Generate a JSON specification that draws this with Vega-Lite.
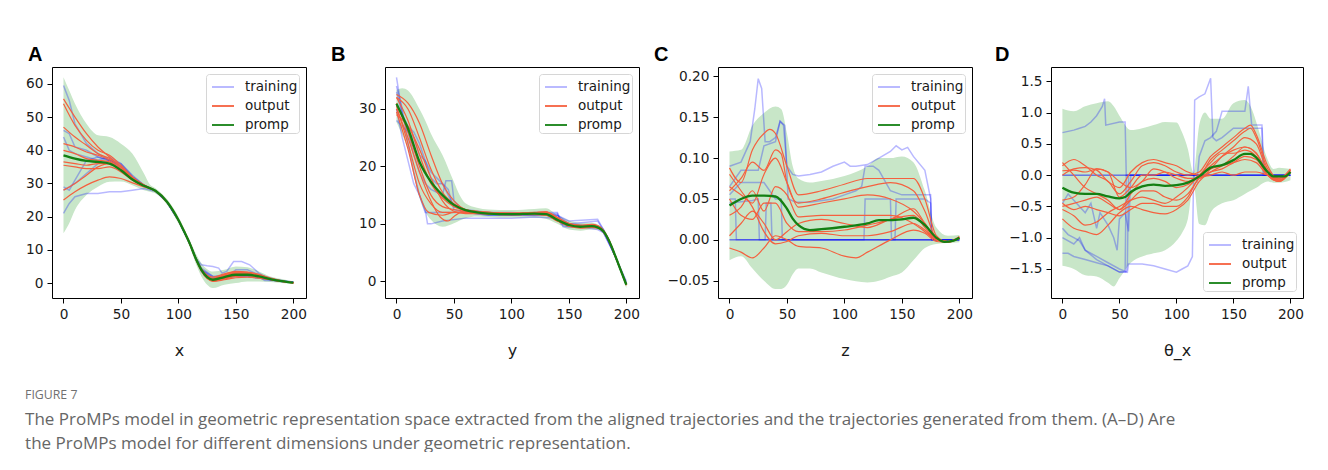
{
"$schema":"https://vega.github.io/schema/vega-lite/v6.json",
"background":"white",
"padding":{"left":25,"top":44,"right":0,"bottom":0},
"bounds":"flush",
"spacing":79,
"title":{"text":"FIGURE 7","subtitle":["The ProMPs model in geometric representation space extracted from the aligned trajectories and the trajectories generated from them. (A–D) Are","the ProMPs model for different dimensions under geometric representation."],"orient":"bottom","anchor":"start","frame":"bounds","font":"Open Sans","fontSize":12.3,"fontWeight":"normal","color":"#707070","baseline":"top","subtitleFont":"Open Sans","subtitleFontSize":17,"subtitleColor":"#666666","subtitleLineHeight":24,"subtitlePadding":10,"offset":30},
"config":{
"font":"DejaVu Sans",
"view":{"stroke":"#000000","strokeWidth":1},
"axis":{"grid":false,"domain":false,"ticks":true,"tickColor":"#000000","tickSize":5,"tickWidth":1,"labelFont":"DejaVu Sans","labelFontSize":13.7,"labelColor":"#1a1a1a","labelPadding":4,"labelFlush":false,"labelOverlap":false,"titleFont":"DejaVu Sans","titleFontSize":16,"titleFontWeight":"normal","titleColor":"#1a1a1a","titlePadding":22},
"title":{"font":"Liberation Sans","fontSize":20,"fontWeight":"bold","color":"#000000","anchor":"start","baseline":"alphabetic","frame":"group","offset":2}
},
"resolve":{"scale":{"color":"independent","x":"independent","y":"independent"},"legend":{"color":"independent"}},
"datasets":{
"A_band":[{"x":0,"y":15,"y2":62},{"x":5,"y":18,"y2":58},{"x":10,"y":22,"y2":54},{"x":20,"y":26.5,"y2":48},{"x":30,"y":29,"y2":44.5},{"x":40,"y":30.5,"y2":44},{"x":50,"y":30.6,"y2":42},{"x":60,"y":29.5,"y2":39},{"x":70,"y":28,"y2":33},{"x":75,"y":27.5,"y2":29.8},{"x":80,"y":27,"y2":28.6},{"x":90,"y":23.7,"y2":25.3},{"x":100,"y":18,"y2":20},{"x":110,"y":10.8,"y2":12.8},{"x":115,"y":6,"y2":9},{"x":120,"y":2,"y2":6},{"x":125,"y":-0.5,"y2":4.2},{"x":130,"y":-1.5,"y2":3.5},{"x":140,"y":-0.5,"y2":4},{"x":150,"y":0,"y2":5},{"x":160,"y":0.5,"y2":4.8},{"x":170,"y":0.5,"y2":3.5},{"x":180,"y":0.3,"y2":2},{"x":190,"y":0,"y2":1.2},{"x":200,"y":-0.3,"y2":0.5}],
"A_mean":[{"x":0,"y":38.5},{"x":10,"y":37.5},{"x":20,"y":36.8},{"x":30,"y":36.5},{"x":40,"y":36},{"x":50,"y":34},{"x":60,"y":31.2},{"x":70,"y":29.3},{"x":80,"y":27.8},{"x":90,"y":24.5},{"x":100,"y":19},{"x":105,"y":15.5},{"x":110,"y":11.8},{"x":115,"y":7.5},{"x":120,"y":4},{"x":125,"y":1.8},{"x":130,"y":1},{"x":140,"y":1.8},{"x":150,"y":2.5},{"x":160,"y":2.5},{"x":170,"y":2},{"x":180,"y":1.2},{"x":190,"y":0.6},{"x":200,"y":0.1}],
"A_out":[
{"s":"r1","x":0,"y":55.5},{"s":"r1","x":10,"y":50},{"s":"r1","x":20,"y":45},{"s":"r1","x":30,"y":41},{"s":"r1","x":40,"y":38},{"s":"r1","x":50,"y":35},{"s":"r1","x":60,"y":31.8},{"s":"r1","x":70,"y":29.5},{"s":"r1","x":80,"y":27.9},{"s":"r1","x":90,"y":24.6},{"s":"r1","x":100,"y":19.1},{"s":"r1","x":110,"y":11.9},{"s":"r1","x":115,"y":7.7},{"s":"r1","x":120,"y":4.3},{"s":"r1","x":130,"y":1.8},{"s":"r1","x":140,"y":2.8},{"s":"r1","x":150,"y":3.5},{"s":"r1","x":160,"y":3.3},{"s":"r1","x":170,"y":2.6},{"s":"r1","x":180,"y":1.5},{"s":"r1","x":190,"y":0.7},{"s":"r1","x":200,"y":0.1},
{"s":"r2","x":0,"y":54},{"s":"r2","x":10,"y":47.5},{"s":"r2","x":20,"y":43},{"s":"r2","x":30,"y":40},{"s":"r2","x":40,"y":38.5},{"s":"r2","x":50,"y":35.5},{"s":"r2","x":60,"y":32},{"s":"r2","x":70,"y":29.6},{"s":"r2","x":80,"y":27.8},{"s":"r2","x":90,"y":24.5},{"s":"r2","x":100,"y":19},{"s":"r2","x":110,"y":11.8},{"s":"r2","x":115,"y":7.4},{"s":"r2","x":120,"y":3.7},{"s":"r2","x":130,"y":0.8},{"s":"r2","x":140,"y":1.5},{"s":"r2","x":150,"y":2.2},{"s":"r2","x":160,"y":2.5},{"s":"r2","x":170,"y":2.2},{"s":"r2","x":180,"y":1.3},{"s":"r2","x":190,"y":0.6},{"s":"r2","x":200,"y":0.1},
{"s":"r3","x":0,"y":47},{"s":"r3","x":10,"y":44},{"s":"r3","x":20,"y":41.5},{"s":"r3","x":30,"y":39},{"s":"r3","x":40,"y":37.5},{"s":"r3","x":50,"y":35},{"s":"r3","x":60,"y":31.6},{"s":"r3","x":70,"y":29.4},{"s":"r3","x":80,"y":27.8},{"s":"r3","x":90,"y":24.5},{"s":"r3","x":100,"y":19},{"s":"r3","x":110,"y":11.8},{"s":"r3","x":115,"y":7.5},{"s":"r3","x":120,"y":4.1},{"s":"r3","x":130,"y":1.2},{"s":"r3","x":140,"y":2.2},{"s":"r3","x":150,"y":3},{"s":"r3","x":160,"y":3},{"s":"r3","x":170,"y":2.3},{"s":"r3","x":180,"y":1.2},{"s":"r3","x":190,"y":0.5},{"s":"r3","x":200,"y":0.1},
{"s":"r4","x":0,"y":42},{"s":"r4","x":10,"y":41},{"s":"r4","x":20,"y":39.5},{"s":"r4","x":30,"y":38.5},{"s":"r4","x":40,"y":37},{"s":"r4","x":50,"y":34.5},{"s":"r4","x":60,"y":31.3},{"s":"r4","x":70,"y":29.3},{"s":"r4","x":80,"y":27.7},{"s":"r4","x":90,"y":24.4},{"s":"r4","x":100,"y":18.9},{"s":"r4","x":110,"y":11.7},{"s":"r4","x":115,"y":7.3},{"s":"r4","x":120,"y":3.6},{"s":"r4","x":130,"y":0.6},{"s":"r4","x":140,"y":1.2},{"s":"r4","x":150,"y":2},{"s":"r4","x":160,"y":2.2},{"s":"r4","x":170,"y":1.8},{"s":"r4","x":180,"y":1.1},{"s":"r4","x":190,"y":0.5},{"s":"r4","x":200,"y":0.1},
{"s":"r5","x":0,"y":40},{"s":"r5","x":10,"y":39},{"s":"r5","x":20,"y":37.5},{"s":"r5","x":30,"y":37},{"s":"r5","x":40,"y":36.5},{"s":"r5","x":50,"y":34},{"s":"r5","x":60,"y":31.2},{"s":"r5","x":70,"y":29.3},{"s":"r5","x":80,"y":27.8},{"s":"r5","x":90,"y":24.5},{"s":"r5","x":100,"y":19},{"s":"r5","x":110,"y":11.8},{"s":"r5","x":115,"y":7.5},{"s":"r5","x":120,"y":4},{"s":"r5","x":130,"y":1},{"s":"r5","x":140,"y":2},{"s":"r5","x":150,"y":2.8},{"s":"r5","x":160,"y":2.7},{"s":"r5","x":170,"y":2},{"s":"r5","x":180,"y":1.2},{"s":"r5","x":190,"y":0.6},{"s":"r5","x":200,"y":0.1},
{"s":"r6","x":0,"y":36.5},{"s":"r6","x":10,"y":36},{"s":"r6","x":20,"y":35.5},{"s":"r6","x":30,"y":36},{"s":"r6","x":40,"y":36},{"s":"r6","x":50,"y":34},{"s":"r6","x":60,"y":31.2},{"s":"r6","x":70,"y":29.3},{"s":"r6","x":80,"y":27.8},{"s":"r6","x":90,"y":24.5},{"s":"r6","x":100,"y":19},{"s":"r6","x":110,"y":11.8},{"s":"r6","x":115,"y":7.5},{"s":"r6","x":120,"y":3.9},{"s":"r6","x":130,"y":0.9},{"s":"r6","x":140,"y":1.6},{"s":"r6","x":150,"y":2.4},{"s":"r6","x":160,"y":2.4},{"s":"r6","x":170,"y":1.9},{"s":"r6","x":180,"y":1.1},{"s":"r6","x":190,"y":0.5},{"s":"r6","x":200,"y":0.1},
{"s":"r7","x":0,"y":35.5},{"s":"r7","x":10,"y":35},{"s":"r7","x":20,"y":34.5},{"s":"r7","x":30,"y":34.5},{"s":"r7","x":40,"y":35},{"s":"r7","x":50,"y":33.5},{"s":"r7","x":60,"y":31},{"s":"r7","x":70,"y":29.2},{"s":"r7","x":80,"y":27.7},{"s":"r7","x":90,"y":24.4},{"s":"r7","x":100,"y":18.9},{"s":"r7","x":110,"y":11.7},{"s":"r7","x":115,"y":7.4},{"s":"r7","x":120,"y":3.9},{"s":"r7","x":130,"y":1.3},{"s":"r7","x":140,"y":2.4},{"s":"r7","x":150,"y":3.2},{"s":"r7","x":160,"y":3.1},{"s":"r7","x":170,"y":2.5},{"s":"r7","x":180,"y":1.4},{"s":"r7","x":190,"y":0.6},{"s":"r7","x":200,"y":0.1},
{"s":"r8","x":0,"y":28},{"s":"r8","x":10,"y":30},{"s":"r8","x":20,"y":32.5},{"s":"r8","x":30,"y":35},{"s":"r8","x":40,"y":36},{"s":"r8","x":50,"y":34},{"s":"r8","x":60,"y":31.2},{"s":"r8","x":70,"y":29.3},{"s":"r8","x":80,"y":27.8},{"s":"r8","x":90,"y":24.5},{"s":"r8","x":100,"y":19},{"s":"r8","x":110,"y":11.8},{"s":"r8","x":115,"y":7.5},{"s":"r8","x":120,"y":4},{"s":"r8","x":130,"y":0.5},{"s":"r8","x":140,"y":1},{"s":"r8","x":150,"y":1.6},{"s":"r8","x":160,"y":1.8},{"s":"r8","x":170,"y":1.5},{"s":"r8","x":180,"y":1},{"s":"r8","x":190,"y":0.5},{"s":"r8","x":200,"y":0.1},
{"s":"r9","x":0,"y":25},{"s":"r9","x":10,"y":27.5},{"s":"r9","x":20,"y":29.5},{"s":"r9","x":30,"y":31},{"s":"r9","x":40,"y":32},{"s":"r9","x":50,"y":31.5},{"s":"r9","x":60,"y":30.2},{"s":"r9","x":70,"y":29},{"s":"r9","x":80,"y":27.7},{"s":"r9","x":90,"y":24.5},{"s":"r9","x":100,"y":19},{"s":"r9","x":110,"y":11.8},{"s":"r9","x":115,"y":7.5},{"s":"r9","x":120,"y":4.1},{"s":"r9","x":130,"y":1.4},{"s":"r9","x":140,"y":2.6},{"s":"r9","x":150,"y":3.4},{"s":"r9","x":160,"y":3.2},{"s":"r9","x":170,"y":2.4},{"s":"r9","x":180,"y":1.3},{"s":"r9","x":190,"y":0.6},{"s":"r9","x":200,"y":0.1}],
"A_train":[
{"s":"b1","x":0,"y":59.5},{"s":"b1","x":5,"y":55},{"s":"b1","x":10,"y":48},{"s":"b1","x":20,"y":42},{"s":"b1","x":30,"y":39},{"s":"b1","x":40,"y":37},{"s":"b1","x":50,"y":35},{"s":"b1","x":60,"y":31.5},{"s":"b1","x":70,"y":29.4},{"s":"b1","x":80,"y":27.8},{"s":"b1","x":90,"y":24.5},{"s":"b1","x":100,"y":19},{"s":"b1","x":110,"y":11.8},{"s":"b1","x":115,"y":7.5},{"s":"b1","x":120,"y":4.5},{"s":"b1","x":130,"y":2},{"s":"b1","x":140,"y":2.5},{"s":"b1","x":150,"y":3},{"s":"b1","x":160,"y":3},{"s":"b1","x":170,"y":2},{"s":"b1","x":180,"y":1.2},{"s":"b1","x":190,"y":0.5},{"s":"b1","x":200,"y":0.2},
{"s":"b2","x":0,"y":46},{"s":"b2","x":5,"y":45},{"s":"b2","x":10,"y":41},{"s":"b2","x":20,"y":40},{"s":"b2","x":30,"y":38},{"s":"b2","x":40,"y":37},{"s":"b2","x":50,"y":35.5},{"s":"b2","x":60,"y":32},{"s":"b2","x":70,"y":29.5},{"s":"b2","x":80,"y":27.8},{"s":"b2","x":90,"y":24.5},{"s":"b2","x":100,"y":19},{"s":"b2","x":110,"y":11.8},{"s":"b2","x":115,"y":7.5},{"s":"b2","x":120,"y":5.5},{"s":"b2","x":125,"y":5.2},{"s":"b2","x":130,"y":5},{"s":"b2","x":135,"y":4.5},{"s":"b2","x":138,"y":3},{"s":"b2","x":142,"y":3.5},{"s":"b2","x":148,"y":6.5},{"s":"b2","x":155,"y":6.5},{"s":"b2","x":162,"y":5.5},{"s":"b2","x":170,"y":3},{"s":"b2","x":180,"y":1},{"s":"b2","x":190,"y":0.8},{"s":"b2","x":200,"y":0.3},
{"s":"b3","x":0,"y":44},{"s":"b3","x":5,"y":40},{"s":"b3","x":10,"y":39},{"s":"b3","x":20,"y":38},{"s":"b3","x":30,"y":37},{"s":"b3","x":40,"y":38},{"s":"b3","x":50,"y":36},{"s":"b3","x":60,"y":32.5},{"s":"b3","x":70,"y":29.5},{"s":"b3","x":80,"y":27.8},{"s":"b3","x":90,"y":24.5},{"s":"b3","x":100,"y":19},{"s":"b3","x":110,"y":11.8},{"s":"b3","x":115,"y":7.5},{"s":"b3","x":120,"y":3.5},{"s":"b3","x":130,"y":1},{"s":"b3","x":140,"y":1.5},{"s":"b3","x":150,"y":2},{"s":"b3","x":160,"y":2},{"s":"b3","x":170,"y":1.5},{"s":"b3","x":180,"y":1},{"s":"b3","x":190,"y":0.5},{"s":"b3","x":200,"y":0.2},
{"s":"b4","x":0,"y":29},{"s":"b4","x":5,"y":28},{"s":"b4","x":10,"y":31},{"s":"b4","x":20,"y":37},{"s":"b4","x":30,"y":38},{"s":"b4","x":40,"y":37},{"s":"b4","x":50,"y":36},{"s":"b4","x":60,"y":32},{"s":"b4","x":70,"y":29.4},{"s":"b4","x":80,"y":27.8},{"s":"b4","x":90,"y":24.5},{"s":"b4","x":100,"y":19},{"s":"b4","x":110,"y":11.8},{"s":"b4","x":115,"y":7.5},{"s":"b4","x":120,"y":4},{"s":"b4","x":130,"y":1},{"s":"b4","x":140,"y":1.5},{"s":"b4","x":150,"y":2.5},{"s":"b4","x":160,"y":2.5},{"s":"b4","x":170,"y":2},{"s":"b4","x":175,"y":0.8},{"s":"b4","x":180,"y":0.8},{"s":"b4","x":190,"y":0.6},{"s":"b4","x":200,"y":0.2},
{"s":"b5","x":0,"y":28},{"s":"b5","x":5,"y":29},{"s":"b5","x":10,"y":30},{"s":"b5","x":20,"y":33},{"s":"b5","x":30,"y":36},{"s":"b5","x":40,"y":37},{"s":"b5","x":50,"y":35},{"s":"b5","x":60,"y":31.5},{"s":"b5","x":70,"y":29.4},{"s":"b5","x":80,"y":27.8},{"s":"b5","x":90,"y":24.5},{"s":"b5","x":100,"y":19},{"s":"b5","x":110,"y":11.8},{"s":"b5","x":115,"y":7.5},{"s":"b5","x":120,"y":4},{"s":"b5","x":130,"y":2},{"s":"b5","x":140,"y":1.5},{"s":"b5","x":150,"y":4},{"s":"b5","x":160,"y":4},{"s":"b5","x":170,"y":2.5},{"s":"b5","x":180,"y":1.5},{"s":"b5","x":190,"y":0.6},{"s":"b5","x":200,"y":0.2},
{"s":"b6","x":0,"y":21},{"s":"b6","x":5,"y":24},{"s":"b6","x":10,"y":26},{"s":"b6","x":20,"y":27},{"s":"b6","x":30,"y":27},{"s":"b6","x":40,"y":27.5},{"s":"b6","x":50,"y":27.5},{"s":"b6","x":60,"y":28},{"s":"b6","x":70,"y":28.5},{"s":"b6","x":80,"y":27.6},{"s":"b6","x":90,"y":24.5},{"s":"b6","x":100,"y":19},{"s":"b6","x":110,"y":11.8},{"s":"b6","x":115,"y":7.5},{"s":"b6","x":120,"y":4},{"s":"b6","x":130,"y":1.5},{"s":"b6","x":140,"y":2},{"s":"b6","x":150,"y":2},{"s":"b6","x":160,"y":2},{"s":"b6","x":170,"y":1.5},{"s":"b6","x":180,"y":1},{"s":"b6","x":190,"y":0.5},{"s":"b6","x":200,"y":0.2}],
"B_band":[{"x":0,"y":27.7,"y2":33.3},{"x":5,"y":25.5,"y2":33.6},{"x":10,"y":23,"y2":33.2},{"x":20,"y":14.5,"y2":30},{"x":25,"y":12.1,"y2":28},{"x":30,"y":10.7,"y2":25.7},{"x":40,"y":9.5,"y2":22},{"x":50,"y":10.1,"y2":17.3},{"x":55,"y":10.6,"y2":15},{"x":60,"y":11,"y2":13.6},{"x":70,"y":11.3,"y2":12.8},{"x":80,"y":11.2,"y2":12.5},{"x":100,"y":11.1,"y2":12.4},{"x":120,"y":11.1,"y2":12.6},{"x":130,"y":10.9,"y2":12.7},{"x":140,"y":10,"y2":11.5},{"x":150,"y":9,"y2":10.6},{"x":160,"y":8.8,"y2":10.2},{"x":170,"y":9,"y2":10.2},{"x":175,"y":9,"y2":9.9},{"x":180,"y":8.3,"y2":9.2},{"x":185,"y":6.6,"y2":7.5},{"x":190,"y":4.1,"y2":5.1},{"x":195,"y":1.5,"y2":2.5},{"x":200,"y":-1.2,"y2":0}],
"B_mean":[{"x":0,"y":30.9},{"x":5,"y":28.8},{"x":10,"y":26.6},{"x":20,"y":20.8},{"x":30,"y":17.3},{"x":40,"y":15},{"x":50,"y":13.3},{"x":60,"y":12.4},{"x":70,"y":12},{"x":80,"y":11.8},{"x":100,"y":11.7},{"x":120,"y":11.8},{"x":130,"y":11.7},{"x":140,"y":10.7},{"x":150,"y":9.8},{"x":160,"y":9.5},{"x":170,"y":9.6},{"x":175,"y":9.4},{"x":180,"y":8.7},{"x":185,"y":7},{"x":190,"y":4.6},{"x":195,"y":2},{"x":200,"y":-0.6}],
"B_out":[
{"s":"o1","x":0,"y":32.5},{"s":"o1","x":10,"y":31},{"s":"o1","x":20,"y":27.5},{"s":"o1","x":30,"y":22},{"s":"o1","x":40,"y":17},{"s":"o1","x":50,"y":14},{"s":"o1","x":60,"y":12.5},{"s":"o1","x":70,"y":12.1},{"s":"o1","x":80,"y":12},{"s":"o1","x":100,"y":11.8},{"s":"o1","x":120,"y":11.9},{"s":"o1","x":130,"y":12},{"s":"o1","x":140,"y":11},{"s":"o1","x":150,"y":10},{"s":"o1","x":160,"y":9.6},{"s":"o1","x":170,"y":9.8},{"s":"o1","x":175,"y":9.6},{"s":"o1","x":180,"y":8.8},{"s":"o1","x":185,"y":7.1},{"s":"o1","x":190,"y":4.6},{"s":"o1","x":195,"y":2},{"s":"o1","x":200,"y":-0.6},
{"s":"o2","x":0,"y":32},{"s":"o2","x":10,"y":28},{"s":"o2","x":20,"y":22},{"s":"o2","x":30,"y":17},{"s":"o2","x":40,"y":14.5},{"s":"o2","x":50,"y":13},{"s":"o2","x":60,"y":12.3},{"s":"o2","x":70,"y":12},{"s":"o2","x":80,"y":11.8},{"s":"o2","x":100,"y":11.6},{"s":"o2","x":120,"y":11.7},{"s":"o2","x":130,"y":11.5},{"s":"o2","x":140,"y":10.5},{"s":"o2","x":150,"y":9.6},{"s":"o2","x":160,"y":9.3},{"s":"o2","x":170,"y":9.4},{"s":"o2","x":175,"y":9.3},{"s":"o2","x":180,"y":8.6},{"s":"o2","x":185,"y":7},{"s":"o2","x":190,"y":4.6},{"s":"o2","x":195,"y":2},{"s":"o2","x":200,"y":-0.6},
{"s":"o3","x":0,"y":31},{"s":"o3","x":10,"y":26},{"s":"o3","x":20,"y":20},{"s":"o3","x":30,"y":15},{"s":"o3","x":40,"y":13},{"s":"o3","x":50,"y":12.5},{"s":"o3","x":60,"y":12.2},{"s":"o3","x":70,"y":12},{"s":"o3","x":80,"y":11.9},{"s":"o3","x":100,"y":11.7},{"s":"o3","x":120,"y":11.8},{"s":"o3","x":130,"y":11.8},{"s":"o3","x":140,"y":10.8},{"s":"o3","x":150,"y":9.8},{"s":"o3","x":160,"y":9.5},{"s":"o3","x":170,"y":9.6},{"s":"o3","x":175,"y":9.4},{"s":"o3","x":180,"y":8.7},{"s":"o3","x":185,"y":7},{"s":"o3","x":190,"y":4.6},{"s":"o3","x":195,"y":2},{"s":"o3","x":200,"y":-0.6},
{"s":"o4","x":0,"y":30.5},{"s":"o4","x":10,"y":24},{"s":"o4","x":20,"y":17},{"s":"o4","x":30,"y":13.5},{"s":"o4","x":40,"y":12},{"s":"o4","x":50,"y":12},{"s":"o4","x":60,"y":12},{"s":"o4","x":70,"y":11.9},{"s":"o4","x":80,"y":11.8},{"s":"o4","x":100,"y":11.8},{"s":"o4","x":120,"y":11.9},{"s":"o4","x":130,"y":12.1},{"s":"o4","x":140,"y":11.1},{"s":"o4","x":150,"y":10.1},{"s":"o4","x":160,"y":9.8},{"s":"o4","x":170,"y":9.9},{"s":"o4","x":175,"y":9.7},{"s":"o4","x":180,"y":8.9},{"s":"o4","x":185,"y":7.1},{"s":"o4","x":190,"y":4.6},{"s":"o4","x":195,"y":2},{"s":"o4","x":200,"y":-0.6},
{"s":"o5","x":0,"y":30},{"s":"o5","x":10,"y":25},{"s":"o5","x":20,"y":19},{"s":"o5","x":30,"y":14},{"s":"o5","x":38,"y":11.2},{"s":"o5","x":45,"y":10.5},{"s":"o5","x":50,"y":11.3},{"s":"o5","x":60,"y":12.3},{"s":"o5","x":70,"y":12.2},{"s":"o5","x":80,"y":12},{"s":"o5","x":100,"y":11.8},{"s":"o5","x":120,"y":11.7},{"s":"o5","x":130,"y":11.6},{"s":"o5","x":140,"y":10.6},{"s":"o5","x":150,"y":9.7},{"s":"o5","x":160,"y":9.4},{"s":"o5","x":170,"y":9.5},{"s":"o5","x":175,"y":9.4},{"s":"o5","x":180,"y":8.7},{"s":"o5","x":185,"y":7},{"s":"o5","x":190,"y":4.6},{"s":"o5","x":195,"y":2},{"s":"o5","x":200,"y":-0.6},
{"s":"o6","x":0,"y":29},{"s":"o6","x":10,"y":27},{"s":"o6","x":20,"y":23},{"s":"o6","x":30,"y":18},{"s":"o6","x":40,"y":14},{"s":"o6","x":50,"y":12.2},{"s":"o6","x":60,"y":11.8},{"s":"o6","x":70,"y":11.8},{"s":"o6","x":80,"y":11.7},{"s":"o6","x":100,"y":11.6},{"s":"o6","x":120,"y":11.6},{"s":"o6","x":130,"y":11.5},{"s":"o6","x":140,"y":10.5},{"s":"o6","x":150,"y":9.6},{"s":"o6","x":160,"y":9.3},{"s":"o6","x":170,"y":9.4},{"s":"o6","x":175,"y":9.3},{"s":"o6","x":180,"y":8.6},{"s":"o6","x":185,"y":6.9},{"s":"o6","x":190,"y":4.5},{"s":"o6","x":195,"y":2},{"s":"o6","x":200,"y":-0.6},
{"s":"o7","x":0,"y":32},{"s":"o7","x":10,"y":30},{"s":"o7","x":20,"y":25},{"s":"o7","x":30,"y":19.5},{"s":"o7","x":40,"y":15.5},{"s":"o7","x":50,"y":13.5},{"s":"o7","x":60,"y":12.5},{"s":"o7","x":70,"y":12.2},{"s":"o7","x":80,"y":12},{"s":"o7","x":100,"y":11.9},{"s":"o7","x":120,"y":12},{"s":"o7","x":130,"y":12.1},{"s":"o7","x":140,"y":11.1},{"s":"o7","x":150,"y":10},{"s":"o7","x":160,"y":9.7},{"s":"o7","x":170,"y":9.8},{"s":"o7","x":175,"y":9.6},{"s":"o7","x":180,"y":8.8},{"s":"o7","x":185,"y":7.1},{"s":"o7","x":190,"y":4.6},{"s":"o7","x":195,"y":2},{"s":"o7","x":200,"y":-0.7},
{"s":"o8","x":0,"y":29.5},{"s":"o8","x":10,"y":23},{"s":"o8","x":20,"y":15},{"s":"o8","x":28,"y":12},{"s":"o8","x":40,"y":11.5},{"s":"o8","x":50,"y":12},{"s":"o8","x":60,"y":12},{"s":"o8","x":70,"y":11.9},{"s":"o8","x":80,"y":11.8},{"s":"o8","x":100,"y":11.7},{"s":"o8","x":120,"y":11.7},{"s":"o8","x":130,"y":11.6},{"s":"o8","x":140,"y":10.6},{"s":"o8","x":150,"y":9.7},{"s":"o8","x":160,"y":9.4},{"s":"o8","x":170,"y":9.5},{"s":"o8","x":175,"y":9.4},{"s":"o8","x":180,"y":8.7},{"s":"o8","x":185,"y":7},{"s":"o8","x":190,"y":4.6},{"s":"o8","x":195,"y":2},{"s":"o8","x":200,"y":-0.6}],
"B_train":[
{"s":"t1","x":0,"y":35.5},{"s":"t1","x":2,"y":33},{"s":"t1","x":5,"y":29},{"s":"t1","x":10,"y":26},{"s":"t1","x":15,"y":22},{"s":"t1","x":20,"y":19},{"s":"t1","x":25,"y":17},{"s":"t1","x":30,"y":16},{"s":"t1","x":40,"y":15},{"s":"t1","x":43,"y":17.5},{"s":"t1","x":48,"y":17.5},{"s":"t1","x":50,"y":14},{"s":"t1","x":60,"y":12},{"s":"t1","x":80,"y":11.5},{"s":"t1","x":100,"y":11.5},{"s":"t1","x":120,"y":11.5},{"s":"t1","x":140,"y":11.8},{"s":"t1","x":143,"y":10},{"s":"t1","x":150,"y":9.5},{"s":"t1","x":160,"y":9.5},{"s":"t1","x":175,"y":9.5},{"s":"t1","x":180,"y":8.5},{"s":"t1","x":190,"y":4.5},{"s":"t1","x":200,"y":-0.5},
{"s":"t2","x":0,"y":34},{"s":"t2","x":5,"y":30},{"s":"t2","x":10,"y":24},{"s":"t2","x":15,"y":19},{"s":"t2","x":20,"y":15},{"s":"t2","x":25,"y":12.5},{"s":"t2","x":27,"y":10},{"s":"t2","x":30,"y":10},{"s":"t2","x":40,"y":10.5},{"s":"t2","x":60,"y":11},{"s":"t2","x":80,"y":11},{"s":"t2","x":100,"y":11},{"s":"t2","x":120,"y":11.2},{"s":"t2","x":140,"y":11},{"s":"t2","x":150,"y":10},{"s":"t2","x":175,"y":10.5},{"s":"t2","x":180,"y":9},{"s":"t2","x":190,"y":4.5},{"s":"t2","x":200,"y":0},
{"s":"t3","x":0,"y":30},{"s":"t3","x":5,"y":25},{"s":"t3","x":10,"y":21},{"s":"t3","x":15,"y":17},{"s":"t3","x":20,"y":15},{"s":"t3","x":25,"y":12},{"s":"t3","x":40,"y":12},{"s":"t3","x":60,"y":12},{"s":"t3","x":80,"y":12},{"s":"t3","x":100,"y":11.5},{"s":"t3","x":120,"y":12},{"s":"t3","x":140,"y":12},{"s":"t3","x":145,"y":9.5},{"s":"t3","x":160,"y":9.5},{"s":"t3","x":175,"y":9},{"s":"t3","x":180,"y":8.5},{"s":"t3","x":190,"y":4.5},{"s":"t3","x":200,"y":-0.5},
{"s":"t4","x":0,"y":28},{"s":"t4","x":5,"y":27},{"s":"t4","x":10,"y":26},{"s":"t4","x":15,"y":25},{"s":"t4","x":20,"y":22},{"s":"t4","x":25,"y":21},{"s":"t4","x":30,"y":19},{"s":"t4","x":35,"y":18},{"s":"t4","x":40,"y":17},{"s":"t4","x":45,"y":16},{"s":"t4","x":50,"y":12.5},{"s":"t4","x":60,"y":12},{"s":"t4","x":80,"y":11.5},{"s":"t4","x":100,"y":11.5},{"s":"t4","x":120,"y":11.5},{"s":"t4","x":140,"y":11.5},{"s":"t4","x":150,"y":10.5},{"s":"t4","x":175,"y":10.8},{"s":"t4","x":180,"y":9},{"s":"t4","x":190,"y":4.5},{"s":"t4","x":200,"y":-0.3},
{"s":"t5","x":0,"y":33},{"s":"t5","x":5,"y":29},{"s":"t5","x":10,"y":27},{"s":"t5","x":15,"y":26},{"s":"t5","x":20,"y":24},{"s":"t5","x":25,"y":21},{"s":"t5","x":30,"y":18},{"s":"t5","x":35,"y":17},{"s":"t5","x":40,"y":17},{"s":"t5","x":45,"y":15},{"s":"t5","x":50,"y":13},{"s":"t5","x":60,"y":12.5},{"s":"t5","x":80,"y":12},{"s":"t5","x":100,"y":12},{"s":"t5","x":120,"y":11.8},{"s":"t5","x":140,"y":11.5},{"s":"t5","x":150,"y":10},{"s":"t5","x":175,"y":9.5},{"s":"t5","x":180,"y":9},{"s":"t5","x":190,"y":4.5},{"s":"t5","x":200,"y":-0.5}],
"C_band":[{"x":0,"y":-0.025,"y2":0.108},{"x":10,"y":-0.02,"y2":0.11},{"x":20,"y":-0.035,"y2":0.14},{"x":30,"y":-0.05,"y2":0.155},{"x":40,"y":-0.06,"y2":0.163},{"x":45,"y":-0.06,"y2":0.16},{"x":50,"y":-0.055,"y2":0.13},{"x":55,"y":-0.042,"y2":0.09},{"x":60,"y":-0.035,"y2":0.075},{"x":70,"y":-0.035,"y2":0.07},{"x":80,"y":-0.04,"y2":0.072},{"x":100,"y":-0.048,"y2":0.078},{"x":120,"y":-0.052,"y2":0.09},{"x":130,"y":-0.05,"y2":0.1},{"x":140,"y":-0.045,"y2":0.1},{"x":150,"y":-0.04,"y2":0.102},{"x":160,"y":-0.025,"y2":0.095},{"x":170,"y":-0.01,"y2":0.06},{"x":180,"y":-0.005,"y2":0.015},{"x":190,"y":-0.004,"y2":0.005},{"x":200,"y":-0.003,"y2":0.006}],
"C_mean":[{"x":0,"y":0.042},{"x":10,"y":0.05},{"x":20,"y":0.054},{"x":30,"y":0.054},{"x":40,"y":0.053},{"x":50,"y":0.038},{"x":55,"y":0.026},{"x":60,"y":0.018},{"x":70,"y":0.012},{"x":80,"y":0.013},{"x":100,"y":0.016},{"x":120,"y":0.02},{"x":130,"y":0.024},{"x":140,"y":0.024},{"x":150,"y":0.025},{"x":160,"y":0.027},{"x":170,"y":0.018},{"x":180,"y":0.0025},{"x":187,"y":-0.0025},{"x":195,"y":-0.001},{"x":200,"y":0.0025}],
"C_out":[
{"s":"c1","x":0,"y":0.088},{"s":"c1","x":10,"y":0.07},{"s":"c1","x":20,"y":0.11},{"s":"c1","x":30,"y":0.13},{"s":"c1","x":35,"y":0.135},{"s":"c1","x":40,"y":0.13},{"s":"c1","x":50,"y":0.09},{"s":"c1","x":60,"y":0.055},{"s":"c1","x":80,"y":0.06},{"s":"c1","x":100,"y":0.068},{"s":"c1","x":120,"y":0.075},{"s":"c1","x":140,"y":0.075},{"s":"c1","x":160,"y":0.075},{"s":"c1","x":170,"y":0.05},{"s":"c1","x":180,"y":0.005},{"s":"c1","x":190,"y":-0.003},{"s":"c1","x":200,"y":0.004},
{"s":"c2","x":0,"y":0.06},{"s":"c2","x":10,"y":0.075},{"s":"c2","x":20,"y":0.095},{"s":"c2","x":30,"y":0.085},{"s":"c2","x":40,"y":0.11},{"s":"c2","x":45,"y":0.105},{"s":"c2","x":50,"y":0.07},{"s":"c2","x":60,"y":0.045},{"s":"c2","x":80,"y":0.05},{"s":"c2","x":100,"y":0.058},{"s":"c2","x":120,"y":0.065},{"s":"c2","x":140,"y":0.07},{"s":"c2","x":160,"y":0.06},{"s":"c2","x":170,"y":0.035},{"s":"c2","x":180,"y":0.002},{"s":"c2","x":190,"y":-0.002},{"s":"c2","x":200,"y":0.002},
{"s":"c3","x":0,"y":0.065},{"s":"c3","x":10,"y":0.055},{"s":"c3","x":20,"y":0.045},{"s":"c3","x":30,"y":0.08},{"s":"c3","x":40,"y":0.1},{"s":"c3","x":50,"y":0.07},{"s":"c3","x":60,"y":0.04},{"s":"c3","x":80,"y":0.045},{"s":"c3","x":100,"y":0.05},{"s":"c3","x":120,"y":0.055},{"s":"c3","x":140,"y":0.05},{"s":"c3","x":160,"y":0.035},{"s":"c3","x":170,"y":0.02},{"s":"c3","x":180,"y":0.001},{"s":"c3","x":190,"y":-0.002},{"s":"c3","x":200,"y":0.002},
{"s":"c4","x":0,"y":0.03},{"s":"c4","x":10,"y":0.04},{"s":"c4","x":20,"y":0.06},{"s":"c4","x":30,"y":0.035},{"s":"c4","x":40,"y":0.065},{"s":"c4","x":50,"y":0.055},{"s":"c4","x":60,"y":0.028},{"s":"c4","x":80,"y":0.03},{"s":"c4","x":100,"y":0.03},{"s":"c4","x":120,"y":0.03},{"s":"c4","x":140,"y":0.03},{"s":"c4","x":160,"y":0.02},{"s":"c4","x":170,"y":0.01},{"s":"c4","x":180,"y":0},{"s":"c4","x":190,"y":-0.002},{"s":"c4","x":200,"y":0.003},
{"s":"c5","x":0,"y":0.05},{"s":"c5","x":10,"y":0.03},{"s":"c5","x":20,"y":0.025},{"s":"c5","x":30,"y":0.045},{"s":"c5","x":40,"y":0.045},{"s":"c5","x":50,"y":0.02},{"s":"c5","x":60,"y":0.01},{"s":"c5","x":80,"y":0.01},{"s":"c5","x":100,"y":0.012},{"s":"c5","x":120,"y":0.018},{"s":"c5","x":140,"y":0.025},{"s":"c5","x":160,"y":0.038},{"s":"c5","x":170,"y":0.02},{"s":"c5","x":180,"y":0},{"s":"c5","x":190,"y":-0.002},{"s":"c5","x":200,"y":0.003},
{"s":"c6","x":0,"y":0.005},{"s":"c6","x":10,"y":0.02},{"s":"c6","x":20,"y":0.035},{"s":"c6","x":30,"y":0.02},{"s":"c6","x":40,"y":0},{"s":"c6","x":50,"y":0.01},{"s":"c6","x":60,"y":0.02},{"s":"c6","x":80,"y":0.025},{"s":"c6","x":100,"y":0.02},{"s":"c6","x":120,"y":0.015},{"s":"c6","x":140,"y":0.025},{"s":"c6","x":160,"y":0.03},{"s":"c6","x":170,"y":0.015},{"s":"c6","x":180,"y":0},{"s":"c6","x":190,"y":-0.002},{"s":"c6","x":200,"y":0.002},
{"s":"c7","x":0,"y":-0.01},{"s":"c7","x":10,"y":-0.015},{"s":"c7","x":20,"y":-0.022},{"s":"c7","x":30,"y":-0.01},{"s":"c7","x":40,"y":0.005},{"s":"c7","x":50,"y":0},{"s":"c7","x":60,"y":-0.008},{"s":"c7","x":80,"y":-0.01},{"s":"c7","x":100,"y":-0.02},{"s":"c7","x":110,"y":-0.022},{"s":"c7","x":120,"y":-0.015},{"s":"c7","x":140,"y":0},{"s":"c7","x":160,"y":0.012},{"s":"c7","x":170,"y":0.008},{"s":"c7","x":180,"y":-0.002},{"s":"c7","x":190,"y":-0.003},{"s":"c7","x":200,"y":0.002},
{"s":"c8","x":0,"y":0.08},{"s":"c8","x":10,"y":0.06},{"s":"c8","x":20,"y":0.04},{"s":"c8","x":30,"y":0.01},{"s":"c8","x":40,"y":-0.005},{"s":"c8","x":50,"y":-0.002},{"s":"c8","x":60,"y":0.005},{"s":"c8","x":80,"y":0.008},{"s":"c8","x":100,"y":0.005},{"s":"c8","x":120,"y":0.005},{"s":"c8","x":140,"y":0.01},{"s":"c8","x":160,"y":0.02},{"s":"c8","x":170,"y":0.012},{"s":"c8","x":180,"y":0},{"s":"c8","x":190,"y":-0.002},{"s":"c8","x":200,"y":0.002}],
"C_train":[
{"s":"u1","x":0,"y":0.09},{"s":"u1","x":10,"y":0.095},{"s":"u1","x":18,"y":0.12},{"s":"u1","x":22,"y":0.16},{"s":"u1","x":25,"y":0.197},{"s":"u1","x":28,"y":0.185},{"s":"u1","x":31,"y":0.12},{"s":"u1","x":35,"y":0.12},{"s":"u1","x":40,"y":0.125},{"s":"u1","x":44,"y":0.145},{"s":"u1","x":47,"y":0.14},{"s":"u1","x":50,"y":0.09},{"s":"u1","x":55,"y":0.08},{"s":"u1","x":60,"y":0.078},{"s":"u1","x":70,"y":0.08},{"s":"u1","x":80,"y":0.083},{"s":"u1","x":90,"y":0.09},{"s":"u1","x":100,"y":0.095},{"s":"u1","x":105,"y":0.09},{"s":"u1","x":110,"y":0.09},{"s":"u1","x":120,"y":0.092},{"s":"u1","x":130,"y":0.1},{"s":"u1","x":140,"y":0.108},{"s":"u1","x":145,"y":0.115},{"s":"u1","x":150,"y":0.11},{"s":"u1","x":155,"y":0.113},{"s":"u1","x":160,"y":0.102},{"s":"u1","x":170,"y":0.085},{"s":"u1","x":175,"y":0.05},{"s":"u1","x":176,"y":0},{"s":"u1","x":200,"y":0},
{"s":"u2","x":0,"y":0.065},{"s":"u2","x":10,"y":0.085},{"s":"u2","x":25,"y":0.085},{"s":"u2","x":30,"y":0.115},{"s":"u2","x":40,"y":0.12},{"s":"u2","x":44,"y":0.145},{"s":"u2","x":48,"y":0.14},{"s":"u2","x":51,"y":0.05},{"s":"u2","x":58,"y":0.046},{"s":"u2","x":70,"y":0.046},{"s":"u2","x":90,"y":0.05},{"s":"u2","x":100,"y":0.055},{"s":"u2","x":110,"y":0.06},{"s":"u2","x":115,"y":0.065},{"s":"u2","x":118,"y":0.09},{"s":"u2","x":125,"y":0.09},{"s":"u2","x":130,"y":0.085},{"s":"u2","x":140,"y":0.06},{"s":"u2","x":150,"y":0.055},{"s":"u2","x":175,"y":0.055},{"s":"u2","x":176,"y":0},{"s":"u2","x":200,"y":0},
{"s":"u3","x":0,"y":0.05},{"s":"u3","x":5,"y":0.05},{"s":"u3","x":6,"y":0},{"s":"u3","x":200,"y":0},
{"s":"u4","x":0,"y":0.045},{"s":"u4","x":20,"y":0.048},{"s":"u4","x":25,"y":0.05},{"s":"u4","x":26,"y":0},{"s":"u4","x":31,"y":0},{"s":"u4","x":32,"y":0.045},{"s":"u4","x":36,"y":0.045},{"s":"u4","x":37,"y":0},{"s":"u4","x":200,"y":0},
{"s":"u5","x":0,"y":0.055},{"s":"u5","x":10,"y":0.07},{"s":"u5","x":30,"y":0.07},{"s":"u5","x":40,"y":0.05},{"s":"u5","x":45,"y":0.05},{"s":"u5","x":46,"y":0},{"s":"u5","x":117,"y":0},{"s":"u5","x":118,"y":0.05},{"s":"u5","x":140,"y":0.05},{"s":"u5","x":141,"y":0},{"s":"u5","x":144,"y":0},{"s":"u5","x":145,"y":0.05},{"s":"u5","x":170,"y":0.05},{"s":"u5","x":175,"y":0.045},{"s":"u5","x":176,"y":0},{"s":"u5","x":200,"y":0},
{"s":"u6","x":0,"y":0},{"s":"u6","x":200,"y":0},
{"s":"u7","x":0,"y":0},{"s":"u7","x":200,"y":0}],
"D_band":[{"x":0,"y":-1.45,"y2":1.06},{"x":10,"y":-1.5,"y2":1.02},{"x":20,"y":-1.6,"y2":1.1},{"x":30,"y":-1.62,"y2":1.15},{"x":40,"y":-1.72,"y2":1.18},{"x":45,"y":-1.78,"y2":1.1},{"x":50,"y":-1.65,"y2":0.95},{"x":60,"y":-1.4,"y2":0.72},{"x":70,"y":-1.3,"y2":0.75},{"x":80,"y":-1.25,"y2":0.8},{"x":90,"y":-1.2,"y2":0.85},{"x":100,"y":-1.05,"y2":0.84},{"x":105,"y":-0.92,"y2":0.68},{"x":110,"y":-0.7,"y2":0.42},{"x":115,"y":-0.15,"y2":0.05},{"x":120,"y":-0.78,"y2":0.8},{"x":125,"y":-0.8,"y2":1.0},{"x":130,"y":-0.6,"y2":0.9},{"x":140,"y":-0.45,"y2":0.9},{"x":150,"y":-0.4,"y2":1.15},{"x":160,"y":-0.3,"y2":1.2},{"x":165,"y":-0.25,"y2":1.1},{"x":170,"y":-0.2,"y2":0.85},{"x":180,"y":-0.1,"y2":0.25},{"x":185,"y":-0.12,"y2":0.1},{"x":190,"y":-0.12,"y2":0.12},{"x":200,"y":-0.08,"y2":0.1}],
"D_mean":[{"x":0,"y":-0.2},{"x":10,"y":-0.28},{"x":20,"y":-0.3},{"x":30,"y":-0.3},{"x":40,"y":-0.34},{"x":50,"y":-0.37},{"x":55,"y":-0.35},{"x":60,"y":-0.27},{"x":70,"y":-0.18},{"x":80,"y":-0.15},{"x":90,"y":-0.17},{"x":100,"y":-0.16},{"x":110,"y":-0.12},{"x":120,"y":-0.02},{"x":130,"y":0.12},{"x":140,"y":0.16},{"x":150,"y":0.24},{"x":160,"y":0.34},{"x":165,"y":0.34},{"x":170,"y":0.28},{"x":180,"y":0.05},{"x":185,"y":-0.02},{"x":190,"y":-0.02},{"x":195,"y":-0.02},{"x":200,"y":0.05}],
"D_out":[
{"s":"d1","x":0,"y":0.15},{"s":"d1","x":10,"y":0.25},{"s":"d1","x":20,"y":0.15},{"s":"d1","x":30,"y":0},{"s":"d1","x":40,"y":-0.1},{"s":"d1","x":50,"y":-0.3},{"s":"d1","x":60,"y":-0.1},{"s":"d1","x":70,"y":0.15},{"s":"d1","x":80,"y":0.2},{"s":"d1","x":90,"y":0.15},{"s":"d1","x":100,"y":0.05},{"s":"d1","x":110,"y":0},{"s":"d1","x":120,"y":0.05},{"s":"d1","x":130,"y":0.3},{"s":"d1","x":140,"y":0.45},{"s":"d1","x":150,"y":0.6},{"s":"d1","x":160,"y":0.75},{"s":"d1","x":165,"y":0.8},{"s":"d1","x":170,"y":0.65},{"s":"d1","x":180,"y":0.15},{"s":"d1","x":190,"y":-0.08},{"s":"d1","x":200,"y":0.08},
{"s":"d2","x":0,"y":0},{"s":"d2","x":10,"y":0.1},{"s":"d2","x":20,"y":0.12},{"s":"d2","x":30,"y":0.08},{"s":"d2","x":40,"y":-0.1},{"s":"d2","x":50,"y":-0.2},{"s":"d2","x":60,"y":0.05},{"s":"d2","x":70,"y":0.2},{"s":"d2","x":80,"y":0.25},{"s":"d2","x":90,"y":0.2},{"s":"d2","x":100,"y":0.15},{"s":"d2","x":110,"y":0.05},{"s":"d2","x":120,"y":0},{"s":"d2","x":130,"y":0.25},{"s":"d2","x":140,"y":0.4},{"s":"d2","x":150,"y":0.55},{"s":"d2","x":160,"y":0.7},{"s":"d2","x":165,"y":0.75},{"s":"d2","x":170,"y":0.6},{"s":"d2","x":180,"y":0.1},{"s":"d2","x":190,"y":-0.05},{"s":"d2","x":200,"y":0.1},
{"s":"d3","x":0,"y":0.07},{"s":"d3","x":10,"y":0.08},{"s":"d3","x":20,"y":0.05},{"s":"d3","x":30,"y":0.1},{"s":"d3","x":40,"y":0.05},{"s":"d3","x":50,"y":-0.35},{"s":"d3","x":60,"y":-0.2},{"s":"d3","x":70,"y":0},{"s":"d3","x":80,"y":0},{"s":"d3","x":90,"y":0.05},{"s":"d3","x":100,"y":0},{"s":"d3","x":110,"y":-0.05},{"s":"d3","x":120,"y":-0.05},{"s":"d3","x":130,"y":0.1},{"s":"d3","x":140,"y":0.3},{"s":"d3","x":150,"y":0.45},{"s":"d3","x":160,"y":0.6},{"s":"d3","x":170,"y":0.5},{"s":"d3","x":180,"y":0.05},{"s":"d3","x":190,"y":-0.1},{"s":"d3","x":200,"y":0.05},
{"s":"d4","x":0,"y":-0.4},{"s":"d4","x":10,"y":-0.35},{"s":"d4","x":20,"y":-0.15},{"s":"d4","x":30,"y":0.1},{"s":"d4","x":40,"y":0.05},{"s":"d4","x":50,"y":-0.1},{"s":"d4","x":60,"y":-0.2},{"s":"d4","x":70,"y":-0.1},{"s":"d4","x":80,"y":0.1},{"s":"d4","x":90,"y":0.05},{"s":"d4","x":100,"y":-0.05},{"s":"d4","x":110,"y":-0.1},{"s":"d4","x":120,"y":0},{"s":"d4","x":130,"y":0.15},{"s":"d4","x":140,"y":0.3},{"s":"d4","x":150,"y":0.4},{"s":"d4","x":160,"y":0.45},{"s":"d4","x":170,"y":0.35},{"s":"d4","x":180,"y":0},{"s":"d4","x":190,"y":-0.1},{"s":"d4","x":200,"y":0.08},
{"s":"d5","x":0,"y":-0.5},{"s":"d5","x":10,"y":-0.45},{"s":"d5","x":20,"y":-0.4},{"s":"d5","x":30,"y":-0.35},{"s":"d5","x":40,"y":-0.45},{"s":"d5","x":50,"y":-0.55},{"s":"d5","x":60,"y":-0.4},{"s":"d5","x":70,"y":-0.25},{"s":"d5","x":80,"y":-0.25},{"s":"d5","x":90,"y":-0.35},{"s":"d5","x":100,"y":-0.4},{"s":"d5","x":110,"y":-0.3},{"s":"d5","x":120,"y":-0.05},{"s":"d5","x":130,"y":0.05},{"s":"d5","x":140,"y":0.1},{"s":"d5","x":150,"y":0.2},{"s":"d5","x":160,"y":0.3},{"s":"d5","x":170,"y":0.25},{"s":"d5","x":180,"y":0},{"s":"d5","x":190,"y":-0.08},{"s":"d5","x":200,"y":0.05},
{"s":"d6","x":0,"y":-0.45},{"s":"d6","x":10,"y":-0.55},{"s":"d6","x":20,"y":-0.5},{"s":"d6","x":30,"y":-0.55},{"s":"d6","x":40,"y":-0.6},{"s":"d6","x":50,"y":-0.65},{"s":"d6","x":60,"y":-0.55},{"s":"d6","x":70,"y":-0.45},{"s":"d6","x":80,"y":-0.45},{"s":"d6","x":90,"y":-0.5},{"s":"d6","x":100,"y":-0.5},{"s":"d6","x":110,"y":-0.35},{"s":"d6","x":120,"y":-0.05},{"s":"d6","x":130,"y":0},{"s":"d6","x":140,"y":0.05},{"s":"d6","x":150,"y":0},{"s":"d6","x":160,"y":0.05},{"s":"d6","x":170,"y":0.05},{"s":"d6","x":180,"y":0},{"s":"d6","x":190,"y":-0.05},{"s":"d6","x":200,"y":0.05},
{"s":"d7","x":0,"y":-0.55},{"s":"d7","x":10,"y":-0.65},{"s":"d7","x":20,"y":-0.8},{"s":"d7","x":30,"y":-0.75},{"s":"d7","x":40,"y":-0.6},{"s":"d7","x":50,"y":-0.5},{"s":"d7","x":60,"y":-0.4},{"s":"d7","x":70,"y":-0.35},{"s":"d7","x":80,"y":-0.4},{"s":"d7","x":90,"y":-0.45},{"s":"d7","x":100,"y":-0.35},{"s":"d7","x":110,"y":-0.2},{"s":"d7","x":120,"y":0},{"s":"d7","x":130,"y":0.2},{"s":"d7","x":140,"y":0.35},{"s":"d7","x":150,"y":0.35},{"s":"d7","x":160,"y":0.4},{"s":"d7","x":170,"y":0.3},{"s":"d7","x":180,"y":0},{"s":"d7","x":190,"y":-0.1},{"s":"d7","x":200,"y":0.05},
{"s":"d8","x":0,"y":-0.7},{"s":"d8","x":10,"y":-0.85},{"s":"d8","x":20,"y":-0.9},{"s":"d8","x":30,"y":-0.95},{"s":"d8","x":40,"y":-0.8},{"s":"d8","x":50,"y":-0.6},{"s":"d8","x":60,"y":-0.5},{"s":"d8","x":70,"y":-0.55},{"s":"d8","x":80,"y":-0.6},{"s":"d8","x":90,"y":-0.62},{"s":"d8","x":100,"y":-0.55},{"s":"d8","x":110,"y":-0.4},{"s":"d8","x":120,"y":-0.1},{"s":"d8","x":130,"y":0.05},{"s":"d8","x":140,"y":0.15},{"s":"d8","x":150,"y":0.3},{"s":"d8","x":160,"y":0.45},{"s":"d8","x":170,"y":0.35},{"s":"d8","x":180,"y":0.05},{"s":"d8","x":190,"y":-0.08},{"s":"d8","x":200,"y":0.05},
{"s":"d9","x":0,"y":0.2},{"s":"d9","x":10,"y":0},{"s":"d9","x":20,"y":-0.2},{"s":"d9","x":30,"y":-0.3},{"s":"d9","x":40,"y":-0.4},{"s":"d9","x":50,"y":-0.55},{"s":"d9","x":60,"y":-0.3},{"s":"d9","x":70,"y":-0.1},{"s":"d9","x":80,"y":-0.05},{"s":"d9","x":90,"y":-0.1},{"s":"d9","x":100,"y":-0.2},{"s":"d9","x":110,"y":-0.15},{"s":"d9","x":120,"y":0},{"s":"d9","x":130,"y":0.1},{"s":"d9","x":140,"y":0.15},{"s":"d9","x":150,"y":0.2},{"s":"d9","x":160,"y":0.25},{"s":"d9","x":170,"y":0.2},{"s":"d9","x":180,"y":0},{"s":"d9","x":190,"y":-0.05},{"s":"d9","x":200,"y":0.05}],
"D_train":[
{"s":"v1","x":0,"y":0.68},{"s":"v1","x":10,"y":0.72},{"s":"v1","x":15,"y":0.75},{"s":"v1","x":20,"y":0.78},{"s":"v1","x":25,"y":0.85},{"s":"v1","x":30,"y":0.95},{"s":"v1","x":35,"y":1.1},{"s":"v1","x":37,"y":1.22},{"s":"v1","x":38,"y":0.8},{"s":"v1","x":50,"y":0.85},{"s":"v1","x":55,"y":0.85},{"s":"v1","x":56,"y":0},{"s":"v1","x":200,"y":0},
{"s":"v2","x":0,"y":-0.85},{"s":"v2","x":5,"y":-0.95},{"s":"v2","x":10,"y":-1.0},{"s":"v2","x":15,"y":-1.05},{"s":"v2","x":20,"y":-1.2},{"s":"v2","x":30,"y":-1.3},{"s":"v2","x":40,"y":-1.4},{"s":"v2","x":50,"y":-1.5},{"s":"v2","x":57,"y":-1.55},{"s":"v2","x":58,"y":-1.42},{"s":"v2","x":70,"y":-1.42},{"s":"v2","x":80,"y":-1.45},{"s":"v2","x":90,"y":-1.5},{"s":"v2","x":100,"y":-1.55},{"s":"v2","x":105,"y":-1.5},{"s":"v2","x":110,"y":-1.45},{"s":"v2","x":114,"y":-1.3},{"s":"v2","x":116,"y":1.2},{"s":"v2","x":120,"y":1.25},{"s":"v2","x":125,"y":1.3},{"s":"v2","x":130,"y":1.55},{"s":"v2","x":132,"y":0.6},{"s":"v2","x":135,"y":0.55},{"s":"v2","x":140,"y":0.6},{"s":"v2","x":150,"y":0.75},{"s":"v2","x":175,"y":0.75},{"s":"v2","x":176,"y":0},{"s":"v2","x":200,"y":0},
{"s":"v3","x":0,"y":-1.0},{"s":"v3","x":10,"y":-1.1},{"s":"v3","x":15,"y":-1.0},{"s":"v3","x":20,"y":-1.2},{"s":"v3","x":30,"y":-1.35},{"s":"v3","x":40,"y":-1.45},{"s":"v3","x":50,"y":-1.55},{"s":"v3","x":55,"y":-1.55},{"s":"v3","x":56,"y":0},{"s":"v3","x":200,"y":0},
{"s":"v4","x":0,"y":-0.45},{"s":"v4","x":5,"y":-0.3},{"s":"v4","x":10,"y":-0.4},{"s":"v4","x":15,"y":-0.5},{"s":"v4","x":20,"y":-0.6},{"s":"v4","x":25,"y":-0.45},{"s":"v4","x":30,"y":-0.85},{"s":"v4","x":33,"y":-0.6},{"s":"v4","x":40,"y":-0.8},{"s":"v4","x":45,"y":-1.0},{"s":"v4","x":48,"y":-1.2},{"s":"v4","x":50,"y":-0.7},{"s":"v4","x":55,"y":-0.6},{"s":"v4","x":58,"y":-0.9},{"s":"v4","x":60,"y":0},{"s":"v4","x":200,"y":0},
{"s":"v5","x":0,"y":0},{"s":"v5","x":200,"y":0},
{"s":"v6","x":0,"y":0},{"s":"v6","x":100,"y":0},{"s":"v6","x":115,"y":0},{"s":"v6","x":118,"y":-0.1},{"s":"v6","x":120,"y":0.3},{"s":"v6","x":125,"y":0.55},{"s":"v6","x":130,"y":0.6},{"s":"v6","x":135,"y":0.7},{"s":"v6","x":140,"y":1.02},{"s":"v6","x":160,"y":1.02},{"s":"v6","x":163,"y":1.42},{"s":"v6","x":166,"y":0.8},{"s":"v6","x":175,"y":0.8},{"s":"v6","x":177,"y":0},{"s":"v6","x":200,"y":0},
{"s":"v7","x":0,"y":-1.25},{"s":"v7","x":5,"y":-1.25},{"s":"v7","x":10,"y":-1.3},{"s":"v7","x":20,"y":-1.35},{"s":"v7","x":30,"y":-1.4},{"s":"v7","x":40,"y":-1.45},{"s":"v7","x":50,"y":-1.55},{"s":"v7","x":56,"y":-1.55},{"s":"v7","x":57,"y":-1.42},{"s":"v7","x":58,"y":0},{"s":"v7","x":200,"y":0}]
},
"hconcat":[
{"width":254,"height":231,"title":{"text":"A","dx":-24},
"encoding":{"x":{"field":"x","type":"quantitative","scale":{"domain":[-10,211],"nice":false,"zero":false},"axis":{"values":[0,50,100,150,200],"title":"x"}},"y":{"field":"y","type":"quantitative","scale":{"domain":[-4.5,65.1],"nice":false,"zero":false},"axis":{"values":[0,10,20,30,40,50,60],"title":null}}},
"layer":[
{"data":{"name":"A_band"},"mark":{"type":"area","interpolate":"monotone","color":"#c8e6c8"},"encoding":{"y2":{"field":"y2"}}},
{"data":{"name":"A_train"},"mark":{"type":"line","interpolate":"linear","stroke":"#0000ff","strokeOpacity":0.28,"strokeWidth":1.5},"encoding":{"detail":{"field":"s"}}},
{"data":{"name":"A_out"},"mark":{"type":"line","interpolate":"monotone","strokeWidth":1.2},"encoding":{"detail":{"field":"s"},"color":{"datum":"output","type":"nominal","scale":{"domain":["training","output","promp"],"range":["#b3b3ff","#f5603f","#138013"]},"legend":{"orient":"top-right","offset":7,"title":null,"symbolType":"stroke","symbolSize":484,"symbolStrokeWidth":1.8,"symbolOffset":4,"labelFontSize":13.5,"labelFont":"DejaVu Sans","labelColor":"#1a1a1a","fillColor":"#ffffff","strokeColor":"#d6d6d6","cornerRadius":3,"padding":1,"rowPadding":-1,"labelOffset":10}}}},
{"data":{"name":"A_mean"},"mark":{"type":"line","interpolate":"monotone","strokeWidth":2.3},"encoding":{"color":{"datum":"promp","type":"nominal"}}}
]},
{"width":254,"height":231,"title":{"text":"B","dx":-54},
"encoding":{"x":{"field":"x","type":"quantitative","scale":{"domain":[-10,211],"nice":false,"zero":false},"axis":{"values":[0,50,100,150,200],"title":"y"}},"y":{"field":"y","type":"quantitative","scale":{"domain":[-2.9,37.3],"nice":false,"zero":false},"axis":{"values":[0,10,20,30],"title":null}}},
"layer":[
{"data":{"name":"B_band"},"mark":{"type":"area","interpolate":"monotone","color":"#c8e6c8"},"encoding":{"y2":{"field":"y2"}}},
{"data":{"name":"B_train"},"mark":{"type":"line","interpolate":"linear","stroke":"#0000ff","strokeOpacity":0.28,"strokeWidth":1.5},"encoding":{"detail":{"field":"s"}}},
{"data":{"name":"B_out"},"mark":{"type":"line","interpolate":"monotone","strokeWidth":1.2},"encoding":{"detail":{"field":"s"},"color":{"datum":"output","type":"nominal","scale":{"domain":["training","output","promp"],"range":["#b3b3ff","#f5603f","#138013"]},"legend":{"orient":"top-right","offset":7,"title":null,"symbolType":"stroke","symbolSize":484,"symbolStrokeWidth":1.8,"symbolOffset":4,"labelFontSize":13.5,"labelFont":"DejaVu Sans","labelColor":"#1a1a1a","fillColor":"#ffffff","strokeColor":"#d6d6d6","cornerRadius":3,"padding":1,"rowPadding":-1,"labelOffset":10}}}},
{"data":{"name":"B_mean"},"mark":{"type":"line","interpolate":"monotone","strokeWidth":2.3},"encoding":{"color":{"datum":"promp","type":"nominal"}}}
]},
{"width":254,"height":231,"title":{"text":"C","dx":-64},
"encoding":{"x":{"field":"x","type":"quantitative","scale":{"domain":[-10,211],"nice":false,"zero":false},"axis":{"values":[0,50,100,150,200],"title":"z"}},"y":{"field":"y","type":"quantitative","scale":{"domain":[-0.0711,0.2113],"nice":false,"zero":false},"axis":{"values":[-0.05,0,0.05,0.1,0.15,0.2],"format":".2f","title":null}}},
"layer":[
{"data":{"name":"C_band"},"mark":{"type":"area","interpolate":"monotone","color":"#c8e6c8"},"encoding":{"y2":{"field":"y2"}}},
{"data":{"name":"C_train"},"mark":{"type":"line","interpolate":"linear","stroke":"#0000ff","strokeOpacity":0.28,"strokeWidth":1.5},"encoding":{"detail":{"field":"s"}}},
{"data":{"name":"C_out"},"mark":{"type":"line","interpolate":"monotone","strokeWidth":1.2},"encoding":{"detail":{"field":"s"},"color":{"datum":"output","type":"nominal","scale":{"domain":["training","output","promp"],"range":["#b3b3ff","#f5603f","#138013"]},"legend":{"orient":"top-right","offset":7,"title":null,"symbolType":"stroke","symbolSize":484,"symbolStrokeWidth":1.8,"symbolOffset":4,"labelFontSize":13.5,"labelFont":"DejaVu Sans","labelColor":"#1a1a1a","fillColor":"#ffffff","strokeColor":"#d6d6d6","cornerRadius":3,"padding":1,"rowPadding":-1,"labelOffset":10}}}},
{"data":{"name":"C_mean"},"mark":{"type":"line","interpolate":"monotone","strokeWidth":2.3},"encoding":{"color":{"datum":"promp","type":"nominal"}}}
]},
{"width":252,"height":231,"title":{"text":"D","dx":-56},
"encoding":{"x":{"field":"x","type":"quantitative","scale":{"domain":[-10,211],"nice":false,"zero":false},"axis":{"values":[0,50,100,150,200],"title":"θ_x"}},"y":{"field":"y","type":"quantitative","scale":{"domain":[-1.964,1.729],"nice":false,"zero":false},"axis":{"values":[-1.5,-1,-0.5,0,0.5,1,1.5],"format":".1f","title":null}}},
"layer":[
{"data":{"name":"D_band"},"mark":{"type":"area","interpolate":"monotone","color":"#c8e6c8"},"encoding":{"y2":{"field":"y2"}}},
{"data":{"name":"D_train"},"mark":{"type":"line","interpolate":"linear","stroke":"#0000ff","strokeOpacity":0.28,"strokeWidth":1.5},"encoding":{"detail":{"field":"s"}}},
{"data":{"name":"D_out"},"mark":{"type":"line","interpolate":"monotone","strokeWidth":1.2},"encoding":{"detail":{"field":"s"},"color":{"datum":"output","type":"nominal","scale":{"domain":["training","output","promp"],"range":["#b3b3ff","#f5603f","#138013"]},"legend":{"orient":"bottom-right","offset":7,"title":null,"symbolType":"stroke","symbolSize":484,"symbolStrokeWidth":1.8,"symbolOffset":4,"labelFontSize":13.5,"labelFont":"DejaVu Sans","labelColor":"#1a1a1a","fillColor":"#ffffff","strokeColor":"#d6d6d6","cornerRadius":3,"padding":1,"rowPadding":-1,"labelOffset":10}}}},
{"data":{"name":"D_mean"},"mark":{"type":"line","interpolate":"monotone","strokeWidth":2.3},"encoding":{"color":{"datum":"promp","type":"nominal"}}}
]}
]
}
